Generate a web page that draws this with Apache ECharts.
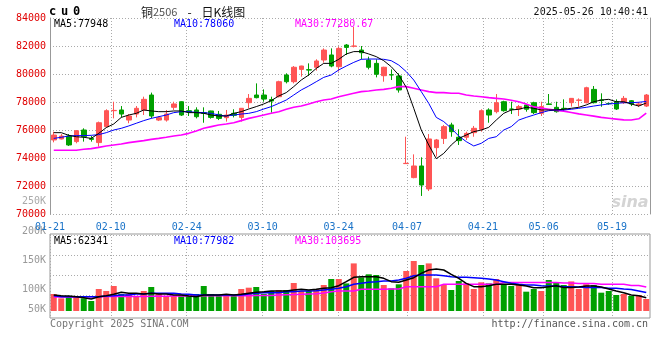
<!DOCTYPE html>
<html><head><meta charset="utf-8">
<script src="https://cdn.jsdelivr.net/npm/echarts@6/dist/echarts.min.js"></script>
<style>html,body{margin:0;padding:0;background:#fff}#c{width:660px;height:360px}</style>
</head><body><div id="c"></div>
<script>
const dates = ['01-21','01-22','01-23','01-24','01-27','02-05','02-06','02-07','02-10','02-11','02-12','02-13','02-14','02-17','02-18','02-19','02-20','02-21','02-24','02-25','02-26','02-27','02-28','03-03','03-04','03-05','03-06','03-07','03-10','03-11','03-12','03-13','03-14','03-17','03-18','03-19','03-20','03-21','03-24','03-25','03-26','03-27','03-28','03-31','04-01','04-02','04-03','04-07','04-08','04-09','04-10','04-11','04-14','04-15','04-16','04-17','04-18','04-21','04-22','04-23','04-24','04-25','04-28','04-29','04-30','05-06','05-07','05-08','05-09','05-12','05-13','05-14','05-15','05-16','05-19','05-20','05-21','05-22','05-23','05-26'];
const dateLabels = ['01-21','02-10','02-24','03-10','03-24','04-07','04-21','05-06','05-19'];

const opens = [75290,75360,75570,75170,76000,75400,75100,76240,77380,77430,
76710,77140,77430,78500,76710,76710,77620,78020,77380,77430,
77240,77360,77120,76880,77190,76900,77950,78500,78500,78170,
78380,79930,79450,80330,80310,80480,81000,81360,80520,82070,
81980,81710,81000,80760,79880,79950,79860,73600,72600,73430,
71790,74740,75400,76360,75480,75480,75810,76050,77430,77310,
78020,77500,77500,77790,77950,77190,77860,77620,77550,77950,
78120,77950,78900,78150,77900,78020,77950,78090,77790,77710];
const closes = [75640,75570,74930,75950,75520,75330,76520,77380,77400,77140,
77000,77550,78190,77000,76880,77140,77860,77070,77290,76950,
77190,76900,76830,77070,77050,77550,78260,78310,78210,78070,
79450,79450,80480,80570,80280,80930,81710,80570,81830,81900,
82000,81520,80480,79980,80480,79930,78860,73620,73430,72070,
75360,75290,76240,75880,75240,75760,76120,77380,77070,77950,
77380,77480,77670,77480,77240,77670,77830,77310,77530,78260,
78140,79020,77950,78100,77880,77500,78260,77860,77860,78500];
const lows = [75120,75330,74860,75050,75170,75170,74810,76190,76830,76900,
76480,76900,77070,76830,76640,76600,77430,77000,77000,76830,
76520,76810,76710,76600,76900,76600,77550,78260,78020,77240,
78330,79330,79330,79810,79860,80240,80810,80480,80170,81360,
81900,81050,80330,79760,79450,79570,78670,73580,72550,71290,
71640,74100,75000,75520,74930,75290,75520,75880,76520,77190,
77310,77140,77000,77310,77140,77000,77790,77240,77310,77670,
77670,77900,77900,77660,77800,77430,77860,77710,77640,77640];
const highs = [75880,75710,75710,76000,76120,75570,76600,77480,78020,77710,
77140,77710,78380,78670,77000,77430,78020,78050,77710,77620,
77620,77380,77360,77430,77480,77570,78570,79330,78900,78380,
79520,80050,80570,80590,80760,81050,81830,81830,81950,82140,
83360,82000,81240,81050,80520,80330,80050,75520,74260,74050,
75710,75360,76360,76520,76050,75880,76290,77480,77550,78570,
78090,78020,77790,77860,78020,78020,78570,78020,78190,78280,
78260,79090,79140,78620,77950,78190,78430,78140,78000,78570];

const ma5 = [75810,75810,75620,75520,75480,75400,75760,76170,76430,76900,
77070,77190,77430,77360,77310,77310,77360,77360,77240,77240,
77190,77070,77000,77000,77190,77310,77500,77670,77860,78100,
78430,78670,79100,79570,79930,80400,80760,80760,81050,81430,
81600,81600,81430,81240,80950,80520,79930,79050,77550,76000,
74930,73950,74330,74930,75400,75640,75880,76000,76190,76710,
77190,77430,77480,77620,77550,77430,77430,77430,77480,77550,
77620,77790,78020,78140,78190,78020,78020,77860,77710,77930];
const ma10 = [75400,75480,75570,75600,75600,75620,75670,75810,76000,76120,
76290,76480,76670,76830,76950,77070,77240,77310,77310,77260,
77240,77190,77070,77000,77070,77140,77190,77310,77500,77670,
77900,78140,78500,78860,79140,79450,79760,79930,80290,80570,
80830,81050,81070,81070,81050,80950,80640,80170,79570,78740,
77900,76900,76600,76120,75570,75170,74860,75050,75400,75520,
76000,76240,76710,76900,77070,77240,77380,77430,77430,77480,
77550,77620,77710,77790,77860,77900,77950,77950,77980,78040];
const ma30 = [74550,74550,74550,74550,74620,74670,74760,74860,74930,75000,
75100,75170,75240,75330,75400,75480,75570,75640,75760,75930,
76120,76240,76360,76430,76520,76670,76830,76950,77070,77190,
77310,77480,77620,77710,77860,78020,78140,78210,78380,78500,
78620,78740,78790,78860,78900,78980,79100,79100,78980,78860,
78740,78670,78670,78620,78620,78500,78430,78380,78310,78260,
78210,78120,78020,77860,77650,77560,77480,77400,77350,77250,
77150,77070,76990,76900,76840,76780,76720,76710,76800,77200];

// volume, in K
const volumes = [52.5,41.7,47.5,47.5,41.7,35,65,60,72.5,52.5,
52.5,47.5,60,70,52.5,47.5,47.5,50,47.5,52.5,
72.5,52.5,47.5,47.5,47.5,65,68.3,70,52.5,60,
62.5,62.5,80,60,60,65,75,90,90,79,
129,94,101.7,100,75,66.7,76.7,110,135,125,
129,91.7,75,62.5,85,79,65,81.7,79,90,
76.7,72.5,76.7,58.3,65,60,87.5,80.8,75,84,
65,77,75,55.8,60,50,52.5,47.5,50,40];
const volMa5 = [50,48.3,47.5,45.8,43.3,40,45.8,48.3,51.7,56.7,
54.2,54.2,52.5,54.2,52.5,52.5,50,50,47.5,45.8,
50,50,50,51.7,50,51.7,54.2,56.7,58.3,60,
60,60,62.5,64.2,62.5,64.2,66.7,68.3,73.3,83.3,
94.2,95.8,95.8,95.8,91.7,83.3,81.7,87.5,93.3,104.2,
112.5,115,112.5,101.7,91.7,79.2,70.8,70.8,73.3,76.7,
76.7,76.7,75,72.5,68.3,68.3,70.8,73.3,69,69,
70,72.5,72.5,70,65,60,55.8,50,48,43];
const volMa10 = [48.3,45.8,45.8,45.8,45.8,45.8,45.8,47.5,48.3,50,
50,52.5,52.5,54.2,54.2,54.2,54.2,52.5,51.7,50,
50,50,50,50,50,50,52.5,54.2,55.8,55.8,
55.8,58.3,58.3,60,60,60.8,62.5,64.2,66.7,70.8,
76.7,79.2,81.7,83.3,85,85,87.5,91.7,98.3,100,
100,100,98.3,95.8,94.2,94.2,93.3,91.7,90,87.5,
83.3,79.2,76.7,75,75,73.3,72.5,72.5,70.8,70.8,
70,69,69,69,67,66.7,65,64,60,56];
const volMa30 = [45,45,45,45,45.5,45.5,45.5,46,46,46,
46.5,46.5,46.5,47,47,47,47.5,47.5,47.5,47.5,
48,48,48,48,48.3,48.3,48.3,48.5,48.5,49,
50,50.5,51,51.7,52.5,53.3,55,58.3,60,60,
60,64.2,64.2,64.2,64.2,65,65,70.8,70.8,70.8,
70.8,70.8,76.7,76.7,76.7,76.7,76.7,76.7,76.7,76.7,
81,81,81,81,81,81,81,81,80,80,
79,79,79,77,76.7,76.7,76.7,74,74,70];

const priceLegend = ['MA5:77948','MA10:78060','MA30:77280.67'];
const volLegend = ['MA5:62341','MA10:77982','MA30:103695'];

const mono = 'DejaVu Sans Mono';
const UP = '#ff5555', DOWN = '#00a000';
const GRIDC = '#aaaaaa';
const labelIdx = dateLabels.map(d => dates.indexOf(d));
const showAt = (i) => labelIdx.indexOf(i) >= 0;

const candleData = dates.map((d, i) => [opens[i], closes[i], lows[i], highs[i]]);
const volData = volumes.map((v, i) => ({value: v, itemStyle: {color: closes[i] >= opens[i] ? UP : DOWN}}));

// volume tick label styles (Sina places these labels off their grid lines)
const volLabelRich = {
  v200: {color:'#999', fontFamily:mono, fontSize:10, padding:[0,0,8,0]},
  v150: {color:'#999', fontFamily:mono, fontSize:10, padding:[11,0,0,0]},
  v100: {color:'#999', fontFamily:mono, fontSize:10, padding:[29,0,0,0]},
  v50:  {color:'#999', fontFamily:mono, fontSize:10, padding:[29,0,0,0]}
};

const chart = echarts.init(document.getElementById('c'));
const lineS = (data, color, w, xi, yi) => ({type:'line', data, xAxisIndex:xi, yAxisIndex:yi, symbol:'none', smooth:false,
  lineStyle:{color, width:w}, itemStyle:{color}, silent:true, z:3});

function txt(x, y, text, fill, font, align) {
  return {type:'text', x, y, z:10, style:{text, fill, font, align: align || 'left', verticalAlign:'middle'}};
}

chart.setOption({
  animation: false,
  backgroundColor: '#fff',
  grid: [
    {left:50, top:18, width:600, height:196},
    {left:50, top:235, width:600, height:76},
    {left:50, top:234, width:600, height:84, show:true, borderColor:'#999', borderWidth:1, backgroundColor:'transparent'},
    {left:50, top:235, width:600, height:60}
  ],
  xAxis: [
    {gridIndex:0, type:'category', data:dates, boundaryGap:true, show:false},
    {gridIndex:0, type:'category', data:dates, boundaryGap:false, position:'bottom',
      axisLine:{show:false}, axisTick:{show:false},
      axisLabel:{interval:(i)=>showAt(i), color:'#1a73c8', fontFamily:mono, fontSize:10, margin:8},
      splitLine:{show:true, interval:(i)=>showAt(i), lineStyle:{color:GRIDC, type:[1,2]}}},
    {gridIndex:1, type:'category', data:dates, boundaryGap:true, show:false},
    {gridIndex:2, type:'category', data:dates, boundaryGap:false,
      axisLine:{show:false}, axisTick:{show:false}, axisLabel:{show:false},
      splitLine:{show:true, interval:(i)=>showAt(i), lineStyle:{color:GRIDC, type:[1,2]}}},
    {gridIndex:3, type:'category', data:dates, show:false}
  ],
  yAxis: [
    {gridIndex:0, type:'value', min:70000, max:84000, interval:2000,
      axisLine:{show:true, lineStyle:{color:'#999'}}, axisTick:{show:false},
      axisLabel:{color:'#e00000', fontFamily:mono, fontSize:10, margin:4, formatter:(v)=>String(v)},
      splitLine:{show:true, lineStyle:{color:GRIDC, type:[1,2]}}},
    {gridIndex:0, type:'value', min:70000, max:84000, interval:2000, position:'right',
      axisLine:{show:true, lineStyle:{color:'#999'}}, axisTick:{show:false},
      axisLabel:{show:false}, splitLine:{show:false}},
    {gridIndex:1, type:'value', min:10, max:200, show:false},
    {gridIndex:2, type:'value', min:0, max:1, show:false},
    {gridIndex:3, type:'value', min:50, max:200, interval:50,
      axisLine:{show:false}, axisTick:{show:false},
      axisLabel:{margin:4, formatter:(v)=>'{v'+v+'|'+v+'K}', rich:volLabelRich},
      splitLine:{show:true, lineStyle:{color:GRIDC, type:[1,2]}}}
  ],
  series: [
    {type:'candlestick', data:candleData, xAxisIndex:0, yAxisIndex:0, barWidth:5, z:2,
      itemStyle:{color:UP, color0:DOWN, borderColor:UP, borderColor0:DOWN, borderWidth:1}},
    lineS(ma30, '#ff00ff', 1.6, 0, 0),
    lineS(ma10, '#0000ff', 1, 0, 0),
    lineS(ma5, '#000000', 1, 0, 0),
    {type:'bar', data:volData, xAxisIndex:2, yAxisIndex:2, barWidth:6, clip:true, z:2},
    lineS(volMa30, '#ff00ff', 1.5, 2, 2),
    lineS(volMa10, '#0000ff', 1.5, 2, 2),
    lineS(volMa5, '#000000', 1.5, 2, 2)
  ],
  graphic: [
    {type:'text', x:49, y:12, z:10, style:{text:'{a|c}{a|u}{a|0}', fill:'#000', verticalAlign:'middle',
      rich:{a:{width:12, align:'left', font:'bold 12px "DejaVu Sans Mono"', fill:'#000'}}}},
    {type:'text', x:141, y:12, z:10, style:{text:'{a|铜}{b|2506}{c|-}{a|日K线图}', verticalAlign:'middle',
      rich:{a:{font:'12px "Noto Sans CJK SC"', fill:'#111'},
            b:{font:'11px "Noto Sans CJK SC"', fill:'#555'},
            c:{font:'12px "Noto Sans CJK SC"', fill:'#111', padding:[0,10,0,10]}}}},
    txt(648, 12, '2025-05-26 10:40:41', '#111', '10px "DejaVu Sans Mono"', 'right'),
    txt(54, 24, priceLegend[0], '#000', '10px "DejaVu Sans Mono"'),
    txt(174, 24, priceLegend[1], '#0000ff', '10px "DejaVu Sans Mono"'),
    txt(295, 24, priceLegend[2], '#ff00ff', '10px "DejaVu Sans Mono"'),
    txt(54, 241, volLegend[0], '#000', '10px "DejaVu Sans Mono"'),
    txt(174, 241, volLegend[1], '#0000ff', '10px "DejaVu Sans Mono"'),
    txt(295, 241, volLegend[2], '#ff00ff', '10px "DejaVu Sans Mono"'),
    txt(46, 201, '250K', '#aaa', '10px "DejaVu Sans Mono"', 'right'),
    txt(50, 324, 'Copyright 2025 SINA.COM', '#777', '10px "DejaVu Sans Mono"'),
    txt(648, 324, 'http://finance.sina.com.cn', '#555', '10px "DejaVu Sans Mono"', 'right'),
    txt(630, 203, 'sina', '#d4d4d4', 'italic bold 16px "DejaVu Sans"', 'center')
  ]
});
</script>
</body></html>
